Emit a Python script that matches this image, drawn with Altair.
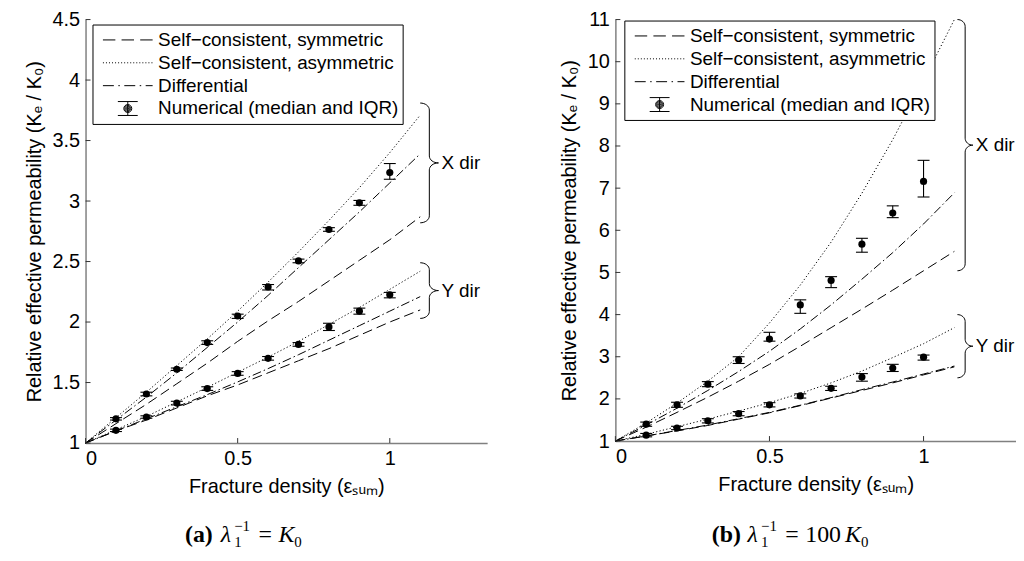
import math
import altair as alt
import pandas as pd

FONT = "Liberation Sans"
SERIF = "Liberation Serif"

SERIES = ["Self\u2212consistent, symmetric", "Self\u2212consistent, asymmetric",
          "Differential", "Numerical (median and IQR)"]

# fracture density for analytic curves
dens = [0.0, 0.1, 0.2, 0.3, 0.4, 0.5, 0.6, 0.7, 0.8, 0.9, 1.0, 1.1]
# fracture density for numerical results
pts_x = [0.1, 0.2, 0.3, 0.4, 0.5, 0.6, 0.7, 0.8, 0.9, 1.0]
x_ticks = [0, 0.5, 1]

# ---------- panel (a) ----------
a_x_sym = [1, 1.16, 1.32, 1.49, 1.66, 1.84, 2.01, 2.17, 2.34, 2.51, 2.68, 2.87]
a_x_asym = [1, 1.21, 1.42, 1.64, 1.86, 2.09, 2.33, 2.58, 2.84, 3.11, 3.40, 3.71]
a_x_diff = [1, 1.19, 1.38, 1.58, 1.79, 2.00, 2.22, 2.45, 2.68, 2.91, 3.15, 3.39]
a_y_sym = [1, 1.10, 1.19, 1.29, 1.39, 1.48, 1.58, 1.68, 1.78, 1.89, 2.00, 2.10]
a_y_asym = [1, 1.11, 1.22, 1.34, 1.46, 1.585, 1.71, 1.84, 1.98, 2.12, 2.27, 2.42]
a_y_diff = [1, 1.10, 1.20, 1.30, 1.40, 1.505, 1.615, 1.73, 1.85, 1.97, 2.09, 2.21]
a_xn_med = [1.20, 1.405, 1.61, 1.83, 2.05, 2.29, 2.505, 2.765, 2.985, 3.235]
a_xn_lo = [1.19, 1.39, 1.60, 1.815, 2.03, 2.265, 2.49, 2.75, 2.965, 3.18]
a_xn_hi = [1.21, 1.42, 1.62, 1.845, 2.065, 2.31, 2.52, 2.78, 3.005, 3.31]
a_yn_med = [1.105, 1.215, 1.33, 1.45, 1.575, 1.70, 1.815, 1.96, 2.09, 2.225]
a_yn_lo = [1.095, 1.205, 1.315, 1.435, 1.56, 1.685, 1.80, 1.93, 2.065, 2.20]
a_yn_hi = [1.115, 1.225, 1.345, 1.465, 1.59, 1.715, 1.83, 1.99, 2.115, 2.245]
a_y_ticks = [1, 1.5, 2, 2.5, 3, 3.5, 4, 4.5]
a_brace_label = ["X dir", "Y dir"]
a_brace_lo = [2.82, 2.03]
a_brace_hi = [3.81, 2.49]

# ---------- panel (b) ----------
b_x_sym = [1, 1.33, 1.68, 2.04, 2.42, 2.82, 3.25, 3.69, 4.13, 4.58, 5.04, 5.5]
b_x_asym = [1, 1.43, 1.90, 2.42, 3.00, 3.80, 4.70, 5.72, 6.88, 8.15, 9.55, 11.0]
b_x_diff = [1, 1.38, 1.78, 2.20, 2.65, 3.13, 3.66, 4.23, 4.84, 5.47, 6.15, 6.89]
b_y_sym = [1, 1.12, 1.24, 1.37, 1.52, 1.67, 1.84, 2.02, 2.20, 2.38, 2.57, 2.76]
b_y_asym = [1, 1.16, 1.34, 1.52, 1.71, 1.91, 2.13, 2.38, 2.66, 2.98, 3.31, 3.69]
b_y_diff = [1, 1.12, 1.25, 1.38, 1.53, 1.68, 1.85, 2.03, 2.22, 2.40, 2.59, 2.78]
b_xn_med = [1.40, 1.86, 2.35, 2.92, 3.42, 4.23, 4.81, 5.67, 6.41, 7.16]
b_xn_lo = [1.35, 1.80, 2.29, 2.84, 3.37, 4.03, 4.64, 5.48, 6.30, 6.79]
b_xn_hi = [1.45, 1.92, 2.41, 3.00, 3.58, 4.35, 4.90, 5.81, 6.58, 7.66]
b_yn_med = [1.14, 1.31, 1.48, 1.65, 1.86, 2.07, 2.25, 2.52, 2.73, 2.99]
b_yn_lo = [1.10, 1.27, 1.43, 1.60, 1.81, 2.02, 2.20, 2.42, 2.65, 2.92]
b_yn_hi = [1.18, 1.35, 1.53, 1.70, 1.91, 2.12, 2.30, 2.60, 2.82, 3.04]
b_y_ticks = [1, 2, 3, 4, 5, 6, 7, 8, 9, 10, 11]
b_brace_label = ["X dir", "Y dir"]
b_brace_lo = [5.04, 2.50]
b_brace_hi = [11.0, 4.00]

# ---------- captions: (text, x offset, dy, size, weight, style) ----------
cap_a = [("(a)", 0, 0, 24, "bold", "normal"), ("\u03bb", 36, 0, 24, "normal", "italic"),
         ("1", 49.5, 5, 15, "normal", "normal"), ("\u22121", 49.5, -12, 15, "normal", "normal"),
         ("=", 74, 0, 24, "normal", "normal"), ("K", 94, 0, 24, "normal", "italic"),
         ("0", 110, 5, 15, "normal", "normal")]
cap_b = [("(b)", 0, 0, 24, "bold", "normal"), ("\u03bb", 36, 0, 24, "normal", "italic"),
         ("1", 49.5, 5, 15, "normal", "normal"), ("\u22121", 49.5, -12, 15, "normal", "normal"),
         ("=", 74, 0, 24, "normal", "normal"), ("100", 94, 0, 24, "normal", "normal"),
         ("K", 134, 0, 24, "normal", "italic"), ("0", 150, 5, 15, "normal", "normal")]

# ---------- legend symbol paths (styling) ----------
def seg_path(segs):
    return "".join(f"M{a:.3f},0H{b:.3f}" for a, b in segs)

def disc_path(radii):
    return "".join(f"M{r},0A{r},{r},0,1,1,{-r},0A{r},{r},0,1,1,{r},0" for r in radii)

P_DASH = seg_path([(-1, -0.5), (-0.25, 0.25), (0.5, 1)])
P_DOT = seg_path([(-1 + 0.122 * k, -1 + 0.122 * k + 0.04) for k in range(17)])
P_DASHDOT = seg_path([(-1, -0.56), (-0.38, -0.32), (-0.14, 0.3), (0.48, 0.54), (0.72, 1)])
P_ERR = "M-0.4,-0.28H0.4M0,-0.28V0.28M-0.4,0.28H0.4" + disc_path([0.16, 0.12, 0.08, 0.04, 0.01])
DASHES = [[10, 5], [1.2, 2.3], [9, 3, 1.5, 3]]

AX_TITLE_X = "Fracture density (\u03b5\u209b\u1d64\u2098)"
AX_TITLE_Y = "Relative effective permeability (K\u2091 / K\u2080)"


def brace_points(x0, w, lo, hi, ry, n=8):
    mid = (lo + hi) / 2
    pts = []
    for i in range(n + 1):
        t = math.pi / 2 * (1 - i / n)
        pts.append((x0 + w / 2 * math.cos(t), hi - ry + ry * math.sin(t)))
    for i in range(n + 1):
        t = math.pi + math.pi / 2 * i / n
        pts.append((x0 + w + w / 2 * math.cos(t), mid + ry + ry * math.sin(t)))
    for i in range(n + 1):
        t = math.pi / 2 + math.pi / 2 * i / n
        pts.append((x0 + w + w / 2 * math.cos(t), mid - ry + ry * math.sin(t)))
    for i in range(n + 1):
        t = -math.pi / 2 * i / n
        pts.append((x0 + w / 2 * math.cos(t), lo + ry + ry * math.sin(t)))
    return pts


def make_panel(curves, nums, brace, yticks, ydom, xmax, W, H, ytop, leg_xy,
               caption, cap_x, cap_y):
    rows = []
    for d, arrs in curves:
        for s, arr in zip(SERIES[:3], arrs):
            for xv, yv in zip(dens, arr):
                rows.append({"x": xv, "y": yv, "series": s, "grp": d + s})
    lines_df = pd.DataFrame(rows)

    prow = []
    for d, (med, lo, hi) in nums:
        for xv, m, l, h in zip(pts_x, med, lo, hi):
            prow.append({"x": xv, "y": m, "lo": l, "hi": h, "dir": d})
    pts_df = pd.DataFrame(prow)

    labels, blo, bhi, bx0, bw = brace
    ry = 7 * (ydom[1] - ydom[0]) / (H - ytop)
    brow, lrow = [], []
    for lab, lo, hi in zip(labels, blo, bhi):
        for k, (px, py) in enumerate(brace_points(bx0, bw, lo, hi, ry)):
            brow.append({"x": px, "y": py, "o": k, "dir": lab})
        lrow.append({"x": bx0 + bw, "y": (lo + hi) / 2, "label": lab})
    brace_df = pd.DataFrame(brow)
    blab_df = pd.DataFrame(lrow)

    xs = alt.Scale(domain=[0, xmax], nice=False, zero=False)
    ys = alt.Scale(domain=ydom, nice=False, zero=False, range=[H, ytop])
    xax = alt.Axis(values=x_ticks, format="~g", title=AX_TITLE_X)
    yax = alt.Axis(values=yticks, format="~g", title=AX_TITLE_Y)
    X = alt.X("x:Q", scale=xs, axis=xax)
    Y = alt.Y("y:Q", scale=ys, axis=yax)

    lines = alt.Chart(lines_df).mark_line(color="black", strokeWidth=1).encode(
        x=X, y=Y, detail="grp:N",
        strokeDash=alt.StrokeDash("series:N", legend=None,
                                  scale=alt.Scale(domain=SERIES[:3], range=DASHES)),
    )
    braces = alt.Chart(brace_df).mark_line(color="black", strokeWidth=1).encode(
        x=X, y=Y, order="o:Q", detail="dir:N")
    blabels = alt.Chart(blab_df).mark_text(
        align="left", baseline="middle", dx=3, font=FONT, fontSize=19, color="black"
    ).encode(x=X, y=Y, text="label:N")

    bars = alt.Chart(pts_df).mark_rule(color="black", strokeWidth=1.1).encode(
        x=X, y=alt.Y("lo:Q", scale=ys, axis=yax), y2="hi:Q")
    caps = alt.Chart(pts_df).transform_fold(["lo", "hi"], as_=["k", "v"]).mark_tick(
        orient="horizontal", size=12, thickness=1.1, color="black", opacity=1
    ).encode(x=X, y=alt.Y("v:Q", scale=ys, axis=yax))
    dots = alt.Chart(pts_df).mark_circle(size=52, color="black", opacity=1).encode(x=X, y=Y)

    xt = alt.Chart(pd.DataFrame({"x": x_ticks})).mark_rule(color="#333333").encode(
        x=X, y=alt.value(H), y2=alt.value(H - 5))
    yt = alt.Chart(pd.DataFrame({"y": yticks})).mark_rule(color="#333333").encode(
        y=Y, x=alt.value(0), x2=alt.value(5))

    leg_df = pd.DataFrame({"series": SERIES, "x": [None] * 4, "y": [None] * 4})
    legend = alt.Chart(leg_df).mark_point(
        filled=False, color="black", strokeWidth=1, size=2500, opacity=1
    ).encode(
        x=X, y=Y,
        shape=alt.Shape("series:N",
                        scale=alt.Scale(domain=SERIES, range=[P_DASH, P_DOT, P_DASHDOT, P_ERR]),
                        legend=alt.Legend(
                            title=None, orient="none", legendX=leg_xy[0], legendY=leg_xy[1],
                            symbolSize=2500, clipHeight=23, rowPadding=0, padding=4,
                            symbolOffset=6, labelOffset=5, labelFont=FONT, labelFontSize=19,
                            labelColor="black", labelLimit=400, strokeColor="black",
                            fillColor="white", symbolStrokeColor="black",
                            symbolStrokeWidth=1, symbolOpacity=1)),
    )

    layers = [lines, braces, blabels, bars, caps, dots, xt, yt, legend]
    for txt, ox, dy, fs, fw, st in caption:
        layers.append(
            alt.Chart(pd.DataFrame({"t": [txt]})).mark_text(
                font=SERIF, fontSize=fs, fontWeight=fw, fontStyle=st, align="left",
                baseline="alphabetic", dy=dy, color="black"
            ).encode(x=alt.value(cap_x + ox), y=alt.value(cap_y), text="t:N"))
    return alt.layer(*layers).properties(width=W, height=H)


left = make_panel(
    [("X", (a_x_sym, a_x_asym, a_x_diff)), ("Y", (a_y_sym, a_y_asym, a_y_diff))],
    [("X", (a_xn_med, a_xn_lo, a_xn_hi)), ("Y", (a_yn_med, a_yn_lo, a_yn_hi))],
    (a_brace_label, a_brace_lo, a_brace_hi, 1.10, 0.06),
    a_y_ticks, [1, 4.5], 1.32, 404, 426, 0, (7, 5),
    cap_a, 100, 526)

right = make_panel(
    [("X", (b_x_sym, b_x_asym, b_x_diff)), ("Y", (b_y_sym, b_y_asym, b_y_diff))],
    [("X", (b_xn_med, b_xn_lo, b_xn_hi)), ("Y", (b_yn_med, b_yn_lo, b_yn_hi))],
    (b_brace_label, b_brace_lo, b_brace_hi, 1.11, 0.05),
    b_y_ticks, [1, 11], 1.3, 403, 424, 0, (9, 1),
    cap_b, 97, 526)

chart = alt.hconcat(left, right, spacing=72).resolve_scale(
    shape="independent", strokeDash="independent"
).resolve_legend(shape="independent").properties(
    padding={"left": 16, "top": 0, "right": 0, "bottom": 0}
).configure_view(stroke=None).configure_axis(
    labelFont=FONT, titleFont=FONT, labelFontSize=20, titleFontSize=20,
    titleFontWeight="normal", labelColor="black", titleColor="black",
    domainColor="#808080", domainWidth=1.5, ticks=False, grid=False,
    labelPadding=6, titlePadding=8,
)

chart.save("out.html", embed_options={"renderer": "svg", "actions": False})
